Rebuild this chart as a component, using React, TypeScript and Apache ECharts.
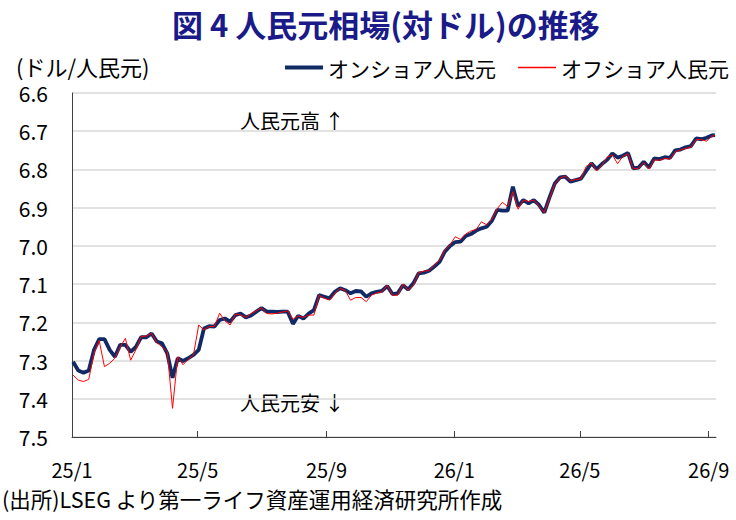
import { useEffect, useRef } from "react";
import * as echarts from "echarts";

const FONT = '"Noto Sans CJK JP", "Noto Sans", sans-serif';

// sample dates (every ~5 days)
const dates = [
  "2025-01-02", "2025-01-07", "2025-01-12", "2025-01-17", "2025-01-22", "2025-01-27",
  "2025-02-01", "2025-02-06", "2025-02-11", "2025-02-16", "2025-02-21", "2025-02-26",
  "2025-03-03", "2025-03-08", "2025-03-13", "2025-03-18", "2025-03-23", "2025-03-28",
  "2025-04-02", "2025-04-07", "2025-04-12", "2025-04-17", "2025-04-22", "2025-04-27",
  "2025-05-02", "2025-05-07", "2025-05-12", "2025-05-17", "2025-05-22", "2025-05-27",
  "2025-06-01", "2025-06-06", "2025-06-11", "2025-06-16", "2025-06-21", "2025-06-26",
  "2025-07-01", "2025-07-06", "2025-07-11", "2025-07-16", "2025-07-21", "2025-07-26", "2025-07-31",
  "2025-08-05", "2025-08-10", "2025-08-15", "2025-08-20", "2025-08-25", "2025-08-30",
  "2025-09-04", "2025-09-09", "2025-09-14", "2025-09-19", "2025-09-24", "2025-09-29",
  "2025-10-04", "2025-10-09", "2025-10-14", "2025-10-19", "2025-10-24", "2025-10-29",
  "2025-11-03", "2025-11-08", "2025-11-13", "2025-11-18", "2025-11-23", "2025-11-28",
  "2025-12-03", "2025-12-08", "2025-12-13", "2025-12-18", "2025-12-23", "2025-12-28",
  "2026-01-02", "2026-01-07", "2026-01-12", "2026-01-17", "2026-01-22", "2026-01-27",
  "2026-02-01", "2026-02-06", "2026-02-11", "2026-02-16", "2026-02-21", "2026-02-26",
  "2026-03-03", "2026-03-08", "2026-03-13", "2026-03-18", "2026-03-23", "2026-03-28",
  "2026-04-02", "2026-04-07", "2026-04-12", "2026-04-17", "2026-04-22", "2026-04-27",
  "2026-05-02", "2026-05-07", "2026-05-12", "2026-05-17", "2026-05-22", "2026-05-27",
  "2026-06-01", "2026-06-06", "2026-06-11", "2026-06-16", "2026-06-21", "2026-06-26",
  "2026-07-01", "2026-07-06", "2026-07-11", "2026-07-16", "2026-07-21", "2026-07-26", "2026-07-31",
  "2026-08-05", "2026-08-10", "2026-08-15", "2026-08-20", "2026-08-25", "2026-08-30",
  "2026-09-04", "2026-09-07",
];

const onshore = [
  7.303, 7.326, 7.332, 7.326, 7.272, 7.244,
  7.244, 7.272, 7.29, 7.259, 7.259, 7.277,
  7.264, 7.239, 7.239, 7.229, 7.25, 7.255,
  7.281, 7.345, 7.294, 7.301, 7.294, 7.285,
  7.272, 7.216, 7.21, 7.211, 7.194, 7.19,
  7.198, 7.181, 7.177, 7.187, 7.182, 7.172,
  7.163, 7.172, 7.172, 7.173, 7.172, 7.172, 7.204,
  7.183, 7.19, 7.177, 7.168, 7.129, 7.133,
  7.137, 7.12, 7.111, 7.116, 7.124, 7.118,
  7.119, 7.133, 7.124, 7.12, 7.118, 7.105,
  7.126, 7.124, 7.103, 7.114, 7.098, 7.072,
  7.07, 7.065, 7.054, 7.042, 7.015, 7.0,
  6.99, 6.989, 6.974, 6.969, 6.96, 6.954,
  6.95, 6.934, 6.906, 6.908, 6.908, 6.845,
  6.896, 6.88, 6.889, 6.88, 6.893, 6.913,
  6.873, 6.837, 6.821, 6.819, 6.832, 6.828,
  6.824, 6.804, 6.784, 6.799, 6.786, 6.775,
  6.758, 6.769, 6.764, 6.757, 6.797, 6.795,
  6.78, 6.795, 6.771, 6.773, 6.768, 6.77, 6.75,
  6.748, 6.742, 6.739, 6.719, 6.721, 6.717,
  6.711, 6.71,
];

const offshore = [
  7.338, 7.351, 7.355, 7.349, 7.281, 7.248,
  7.316, 7.307, 7.294, 7.264, 7.242, 7.299,
  7.272, 7.237, 7.236, 7.229, 7.253, 7.264,
  7.277, 7.425, 7.29, 7.311, 7.297, 7.285,
  7.207, 7.22, 7.211, 7.211, 7.176, 7.196,
  7.207, 7.178, 7.181, 7.187, 7.177, 7.17,
  7.162, 7.177, 7.178, 7.176, 7.173, 7.17, 7.192,
  7.183, 7.187, 7.181, 7.181, 7.129, 7.137,
  7.142, 7.124, 7.111, 7.117, 7.142, 7.135,
  7.135, 7.146, 7.129, 7.123, 7.12, 7.103,
  7.129, 7.129, 7.1, 7.116, 7.103, 7.07,
  7.066, 7.065, 7.05, 7.038, 7.012, 6.997,
  6.976, 6.983, 6.969, 6.961, 6.957, 6.937,
  6.945, 6.93, 6.903, 6.886, 6.897, 6.858,
  6.904, 6.88, 6.884, 6.88, 6.896, 6.913,
  6.876, 6.838, 6.823, 6.817, 6.83, 6.826,
  6.825, 6.792, 6.783, 6.804, 6.789, 6.768,
  6.762, 6.785, 6.766, 6.759, 6.799, 6.797,
  6.782, 6.799, 6.775, 6.776, 6.771, 6.773, 6.754,
  6.749, 6.745, 6.742, 6.722, 6.722, 6.726,
  6.713, 6.711,
];

const tickDates = ["2025-01-01", "2025-05-01", "2025-09-01", "2026-01-01", "2026-05-01", "2026-09-01"];
const tickLabels = ["25/1", "25/5", "25/9", "26/1", "26/5", "26/9"];

const toTime = (s: string) => {
  const [y, m, d] = s.split("-").map(Number);
  return new Date(y, m - 1, d).getTime();
};

export default function App() {
  const ref = useRef<HTMLDivElement>(null);

  useEffect(() => {
    if (!ref.current) return;
    const chart = echarts.init(ref.current, null, { renderer: "svg" });
    const tickTimes = tickDates.map(toTime);

    const legendBase = {
      top: 57,
      padding: 0,
      itemWidth: 38,
      itemHeight: 14,
      textStyle: { fontSize: 21, color: "#000", fontFamily: FONT },
    };

    chart.setOption({
      animation: false,
      backgroundColor: "#ffffff",
      textStyle: { fontFamily: FONT },
      grid: { left: 72, right: 20, top: 93, bottom: 83 },
      legend: [
        {
          ...legendBase,
          left: 285,
          data: [
            {
              name: "オンショア人民元",
              icon: "path://M0,0h38v4h-38z",
              itemStyle: { color: "#112a66", borderWidth: 0 },
            },
          ],
        },
        {
          ...legendBase,
          left: 518,
          data: [
            {
              name: "オフショア人民元",
              icon: "path://M0,0h38v1.5h-38z",
              itemStyle: { color: "#ff0000", borderWidth: 0 },
            },
          ],
        },
      ],
      xAxis: {
        type: "value",
        min: toTime("2025-01-01"),
        max: toTime("2026-09-08"),
        axisLine: { lineStyle: { color: "#404040", width: 1 } },
        axisTick: {
          show: true,
          customValues: tickTimes,
          inside: true,
          length: 6,
          lineStyle: { color: "#404040" },
        },
        axisLabel: {
          customValues: tickTimes,
          fontSize: 20,
          color: "#000",
          margin: 22,
          fontFamily: FONT,
          formatter: (v: number) => {
            const i = tickTimes.findIndex((t) => Math.abs(t - v) < 43200000);
            return i >= 0 ? tickLabels[i] : "";
          },
        },
        splitLine: { show: false },
      },
      yAxis: {
        type: "value",
        inverse: true,
        min: 6.6,
        max: 7.5,
        interval: 0.1,
        axisLine: { show: true, lineStyle: { color: "#404040", width: 1 } },
        axisTick: { show: false },
        axisLabel: {
          fontSize: 21,
          lineHeight: 22,
          color: "#000",
          margin: 24,
          fontFamily: FONT,
          formatter: (v: number) => v.toFixed(1),
        },
        splitLine: { lineStyle: { color: "#d9d9d9", width: 1.5 } },
      },
      graphic: [
        {
          type: "text",
          left: 172,
          top: 6,
          style: {
            text: "図 4 人民元相場(対ドル)の推移",
            fontSize: 31,
            lineHeight: 34,
            fontWeight: "bold",
            fill: "#1a1a88",
            fontFamily: FONT,
          },
        },
        {
          type: "text",
          left: 16,
          top: 55,
          style: { text: "(ドル/人民元)", fontSize: 22, lineHeight: 22, fill: "#000", fontFamily: FONT },
        },
        {
          type: "text",
          left: 240,
          top: 110,
          style: { text: "人民元高 ↑", fontSize: 20, fill: "#000", fontFamily: FONT },
        },
        {
          type: "text",
          left: 240,
          top: 392,
          style: { text: "人民元安 ↓", fontSize: 20, fill: "#000", fontFamily: FONT },
        },
        {
          type: "text",
          left: 2,
          top: 488,
          style: {
            text: "(出所)LSEG より第一ライフ資産運用経済研究所作成",
            fontSize: 21.5,
            fill: "#000",
            fontFamily: FONT,
          },
        },
      ],
      series: [
        {
          name: "オンショア人民元",
          type: "line",
          data: dates.map((d, i) => [toTime(d), onshore[i]]),
          symbol: "none",
          lineStyle: { color: "#112a66", width: 3.8 },
          itemStyle: { color: "#112a66" },
          z: 2,
        },
        {
          name: "オフショア人民元",
          type: "line",
          data: dates.map((d, i) => [toTime(d), offshore[i]]),
          symbol: "none",
          lineStyle: { color: "#ff0000", width: 1 },
          itemStyle: { color: "#ff0000" },
          z: 3,
        },
      ],
    });

    return () => chart.dispose();
  }, []);

  return (
    <div
      ref={ref}
      style={{ position: "absolute", left: 0, top: 0, width: 736, height: 520 }}
    />
  );
}
